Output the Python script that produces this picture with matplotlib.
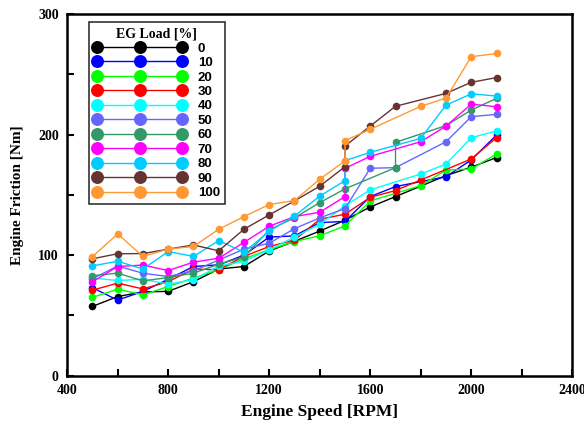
import matplotlib
matplotlib.use("Agg")
from matplotlib import pyplot as plt

# EG load levels [%] and colours
loads = ['0', '10', '20', '30', '40', '50', '60', '70', '80', '90', '100']
colors = ['#000000', '#0000ff', '#00ff00', '#ff0000', '#00ffff', '#6666ff',
          '#339966', '#ff00ff', '#00ccff', '#663333', '#ff9933']

low_rpm = [500, 600, 700, 800, 900, 1000, 1100, 1200, 1300, 1400]

# engine speed [RPM] / friction [Nm] per load (1500 repeated where the curve jumps)
rpm_0 = low_rpm + [1500, 1600, 1700, 1900, 2000, 2100]
fric_0 = [57.5, 65.7, 69.5, 70, 78, 88.5, 90.6, 103.5, 111.5, 120, 129, 140, 148.6, 166, 173, 181]

rpm_10 = low_rpm + [1500, 1600, 1700, 1900, 2000, 2100]
fric_10 = [73, 62.7, 70, 80, 90.6, 92, 100, 115, 116, 127, 128, 148.6, 156.9, 165.1, 179, 199.7]

rpm_20 = low_rpm + [1500, 1600, 1800, 1900, 2000, 2100]
fric_20 = [65, 71.8, 67.1, 74, 81, 88, 97, 104.5, 111.3, 116.1, 124.3, 145, 157.7, 170.6, 171.5, 184]

rpm_30 = low_rpm + [1500, 1600, 1700, 1800, 2000, 2100]
fric_30 = [71, 76.8, 72, 78, 88.4, 88, 99, 107.2, 112.5, 129.8, 134, 148, 153.6, 162.4, 179.8, 197.5]

rpm_40 = low_rpm + [1500, 1600, 1800, 1900, 2000, 2100]
fric_40 = [81, 79, 80, 76, 79.5, 91, 95, 104.5, 115, 125.7, 141, 154.2, 167.3, 175.6, 197.5, 203]

rpm_50 = low_rpm + [1500, 1600, 1700, 1900, 2000, 2100]
fric_50 = [80.5, 91, 85, 82.3, 87, 96, 105, 109.9, 122, 131, 138.6, 172.1, 172.6, 194.1, 214.9, 216.8]

rpm_60 = low_rpm + [1500, 1700, 1700, 1900, 2000, 2100]
fric_60 = [83, 85.1, 78.7, 81.4, 85.1, 92.5, 98.5, 121, 131, 143.6, 155, 172.6, 193.6, 207.5, 220.4, 230.1]

rpm_70 = low_rpm + [1500, 1500, 1600, 1800, 1900, 2000, 2100]
fric_70 = [77.9, 90.6, 91.8, 87.2, 94.2, 97.5, 110.6, 124, 132, 135.6, 148.6, 172, 182, 194.1, 207.1, 225.3, 223.1]

rpm_80 = low_rpm + [1500, 1500, 1600, 1800, 1900, 2000, 2100]
fric_80 = [91.1, 95, 88.5, 103, 99, 112, 102.5, 119.8, 132.5, 149, 161.8, 178.4, 185.3, 196.9, 224.5, 233.8, 232]

rpm_90 = low_rpm + [1500, 1500, 1600, 1700, 1900, 2000, 2100]
fric_90 = [97, 101.2, 101.3, 105, 108.5, 103.6, 121.5, 133.4, 145, 157.2, 173.4, 190.5, 207.1, 223.5, 234.2, 243.4, 247.3]

rpm_100 = low_rpm + [1500, 1500, 1600, 1800, 1900, 2000, 2100]
fric_100 = [98.8, 117.6, 99, 105, 107.2, 121.5, 132, 142, 145.3, 163, 178.2, 195, 204.4, 223.5, 230.3, 264.6, 267.3]

rpms = [rpm_0, rpm_10, rpm_20, rpm_30, rpm_40, rpm_50, rpm_60, rpm_70, rpm_80, rpm_90, rpm_100]
frics = [fric_0, fric_10, fric_20, fric_30, fric_40, fric_50, fric_60, fric_70, fric_80, fric_90, fric_100]

serif = 'Liberation Serif'

fig = plt.figure(figsize=(5.84, 4.26), dpi=100)
ax = fig.add_axes([0.115, 0.118, 0.865, 0.849])

for i in range(len(loads)):
    ax.plot(rpms[i], frics[i], color=colors[i], lw=1.0, marker='o',
            markersize=5.5, markeredgewidth=0, label=loads[i])

ax.set_xlim(400, 2400)
ax.set_ylim(0, 300)
ax.set_xticks(range(400, 2401, 200))
ax.set_xticklabels([str(v) if v % 400 == 0 else '' for v in range(400, 2401, 200)])
ax.set_yticks(range(0, 301, 50))
ax.set_yticklabels([str(v) if v % 100 == 0 else '' for v in range(0, 301, 50)])
ax.tick_params(direction='in', length=5, width=1.5, top=False, right=False, pad=6)
for lab in ax.get_xticklabels() + ax.get_yticklabels():
    lab.set_fontfamily(serif)
    lab.set_fontweight('bold')
    lab.set_fontsize(10)
for s in ax.spines.values():
    s.set_linewidth(1.8)

ax.set_xlabel('Engine Speed [RPM]', family=serif, weight='bold', fontsize=12.5, labelpad=5)
ax.set_ylabel('Engine Friction [Nm]', family=serif, weight='bold', fontsize=11, labelpad=10)

leg = ax.legend(loc='upper left', bbox_to_anchor=(0.03, 0.995), numpoints=3,
                markerscale=1.7, handlelength=7.0, handletextpad=0.9,
                labelspacing=0.17, borderpad=0.35, fancybox=False,
                edgecolor='#333333', framealpha=1,
                prop={'family': 'Liberation Sans', 'weight': 'bold', 'size': 9.5},
                title='EG Load [%]',
                title_fontproperties={'family': serif, 'weight': 'bold', 'size': 10})
leg.get_frame().set_linewidth(1.2)

fig.savefig('out.png', dpi=100)
